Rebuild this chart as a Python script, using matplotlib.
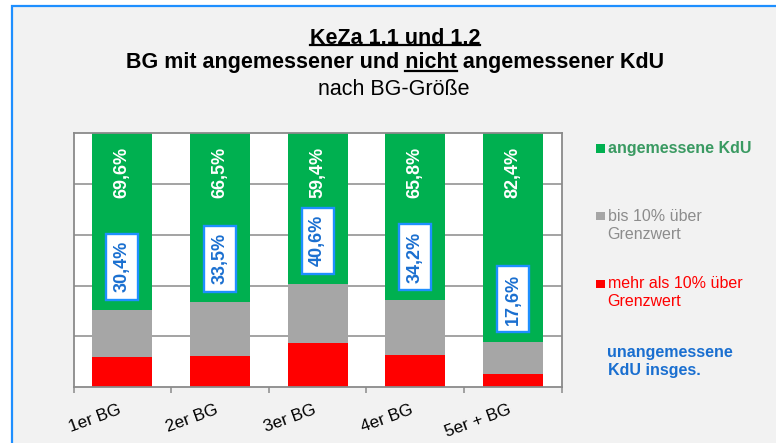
import matplotlib
matplotlib.use("Agg")
import matplotlib.pyplot as plt
from matplotlib.patches import Rectangle
from matplotlib.lines import Line2D

plt.rcParams['font.family'] = ['Liberation Sans', 'DejaVu Sans']

categories = ["1er BG", "2er BG", "3er BG", "4er BG", "5er + BG"]
red_vals = [11.7, 12.2, 17.2, 12.7, 5.2]          # mehr als 10% über Grenzwert
gray_vals = [18.7, 21.3, 23.4, 21.5, 12.4]        # bis 10% über Grenzwert
green_vals = [69.6, 66.5, 59.4, 65.8, 82.4]       # angemessene KdU
unang_vals = [30.4, 33.5, 40.6, 34.2, 17.6]       # unangemessene KdU insges.

title1 = "KeZa 1.1 und 1.2"
title2_pre = "BG mit angemessener und "
title2_ul = "nicht"
title2_post = " angemessener KdU"
title3 = "nach BG-Größe"

legend_items = [
    ("angemessene KdU", "#00B050", "#3A9A62", "bold"),
    ("bis 10% über\nGrenzwert", "#A6A6A6", "#8C8C8C", "normal"),
    ("mehr als 10% über\nGrenzwert", "#FF0000", "#FF0000", "normal"),
    ("unangemessene\nKdU insges.", None, "#1A6FD0", "bold"),
]

W, H = 776, 443
fig = plt.figure(figsize=(W / 100, H / 100), dpi=100)
fig.patch.set_facecolor("white")

def fx(px):
    return px / W

def fy(py):
    return 1 - py / H

# chart frame
fig.patches.append(Rectangle((fx(12), -0.2), 1.2, fy(6) + 0.2, transform=fig.transFigure,
                             facecolor="#F2F2F2", edgecolor="#1E8FFF", linewidth=1.6,
                             zorder=-10))

ax = fig.add_axes([fx(73.5), fy(387), fx(561.7) - fx(73.5), fy(133.3) - fy(387)])
ax.set_facecolor("white")
ax.set_axisbelow(True)

x = list(range(len(categories)))
bw = 0.615
ax.bar(x, red_vals, width=bw, color="#FF0000", zorder=2)
bottom2 = red_vals
ax.bar(x, gray_vals, width=bw, bottom=bottom2, color="#A6A6A6", zorder=2)
bottom3 = [r + g for r, g in zip(red_vals, gray_vals)]
ax.bar(x, green_vals, width=bw, bottom=bottom3, color="#00B050", zorder=2)

ax.set_xlim(-0.5, len(categories) - 0.5)
ax.set_ylim(0, 100)
ax.set_yticks([20, 40, 60, 80])
ax.yaxis.grid(True, color="#8A8A8A", linewidth=1.1)
ax.tick_params(axis="y", length=0, labelleft=False)
ax.set_xticks([i - 0.5 for i in range(len(categories) + 1)])
ax.tick_params(axis="x", length=4, width=1.1, color="#8A8A8A", labelbottom=False)
for s in ax.spines.values():
    s.set_color("#8A8A8A")
    s.set_linewidth(1.3)

def fmt(v):
    return f"{v:.1f}".replace(".", ",") + "%"

for i in x:
    ax.annotate(fmt(green_vals[i]), xy=(i, 100), xytext=(0, -9.5), textcoords="offset points",
                rotation=90, ha="center", va="top", color="white", fontsize=13,
                fontweight="bold", zorder=4)
    ax.text(i, unang_vals[i] + 17, fmt(unang_vals[i]), rotation=90, ha="center", va="center",
            color="#1A6FD0", fontsize=13, fontweight="bold", zorder=5,
            bbox=dict(boxstyle="square,pad=0.42", facecolor="white", edgecolor="#1E8FFF",
                      linewidth=1.7))
    ax.annotate(categories[i], xy=(i, 0), xycoords=("data", "axes fraction"),
                xytext=(-0.5, -19), textcoords="offset points", rotation=20,
                rotation_mode="anchor", ha="right", va="baseline", fontsize=12.3,
                color="black", annotation_clip=False)

# titles
t1 = fig.text(fx(395), fy(43.5), title1, ha="center", va="baseline", fontsize=15.5,
              fontweight="bold")
t2 = fig.text(fx(395), fy(68.3), title2_pre + title2_ul + title2_post, ha="center",
              va="baseline", fontsize=15.5, fontweight="bold")
t3 = fig.text(fx(394), fy(95), title3, ha="center", va="baseline", fontsize=15.5)

# legend
leg_y = [148, 225.5, 292.5, 361.5]
sq_y = [148.3, 215.8, 284.2]
for k, (label, sq_color, txt_color, weight) in enumerate(legend_items):
    fig.text(fx(607.5), fy(leg_y[k]), label, ha="left", va="center", fontsize=11.5,
             color=txt_color, fontweight=weight, linespacing=1.2)
    if sq_color is not None:
        fig.patches.append(Rectangle((fx(596), fy(sq_y[k] + 4.2)), fx(9), 8.4 / H,
                                     transform=fig.transFigure, facecolor=sq_color,
                                     edgecolor="none", zorder=3))

# underlines
fig.canvas.draw()
r = fig.canvas.get_renderer()

def ul(x0, x1, ypx):
    fig.lines.append(Line2D([x0 / W, x1 / W], [fy(ypx), fy(ypx)], transform=fig.transFigure,
                            color="black", linewidth=1.6))

bb1 = t1.get_window_extent(r)
ul(bb1.x0, bb1.x1, 45.2)

bb2 = t2.get_window_extent(r)
tmp = fig.text(0, 0, title2_pre + title2_ul, fontsize=15.5, fontweight="bold")
wpre = tmp.get_window_extent(r).width
tmp.remove()
tmp = fig.text(0, 0, title2_ul, fontsize=15.5, fontweight="bold")
wul = tmp.get_window_extent(r).width
tmp.remove()
ul(bb2.x0 + wpre - wul, bb2.x0 + wpre, 70.5)

fig.savefig("out.png", dpi=100)
